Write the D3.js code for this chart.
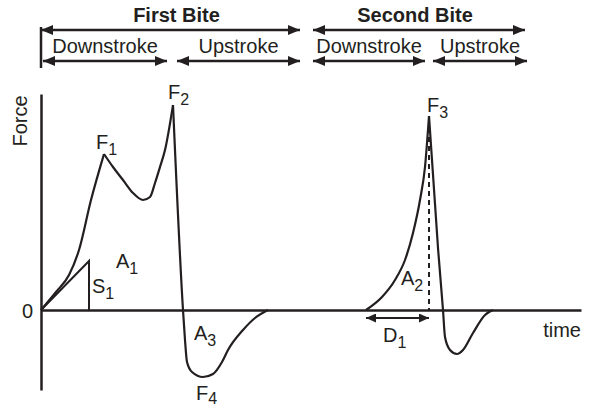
<!DOCTYPE html>
<html>
<head>
<meta charset="utf-8">
<script src="https://cdn.jsdelivr.net/npm/d3@7"></script>
<style>
  body { margin: 0; background: #fff; }
  text { font-family: "Liberation Sans", Arial, sans-serif; fill: #231f20; }
</style>
</head>
<body>
<svg id="chart" width="589" height="408"></svg>
<script>
// force curve, [time, force] in arbitrary units
const bite1Rise = [[0, 0], [0.75, 0.9], [1.4, 1.75], [1.9, 3.0], [2.5, 5.5], [3.15, 7.8]];
const bite1Valley = [[3.15, 7.8], [3.6, 7.15], [4.1, 6.5], [4.6, 5.85], [5.1, 5.5], [5.45, 5.65], [5.7, 6.35], [5.95, 7.15], [6.2, 8.0], [6.6, 10.25]];
const bite1Fall = [[6.6, 10.25], [7.1, 0], [7.2, -1.5], [7.3, -2.6], [7.55, -3.1], [8.1, -3.35], [8.6, -3.2], [9.05, -2.6], [9.35, -2.0], [10.1, -1.0], [10.7, -0.4], [11.35, 0]];
const bite2Rise = [[16.25, 0], [17.05, 0.65], [17.7, 1.5], [18.2, 2.5], [18.6, 3.85], [18.95, 5.5], [19.2, 7.15], [19.4, 9.7]];
const bite2Fall = [[19.4, 9.7], [19.85, 3.1], [20.1, 0], [20.2, -1.35], [20.45, -2.0], [20.8, -2.2], [21.1, -2.0], [21.6, -1.15], [22.2, -0.25], [22.6, 0]];

const slopePoint = [2.4, 2.45];      // S1
const durationSpan = [16.25, 19.4];  // D1

const biteNames = ["First Bite", "Second Bite"];
const biteSpans = [[0, 12.95], [13.6, 24.2]];
const strokeNames = ["Downstroke", "Upstroke", "Downstroke", "Upstroke"];
const strokeSpans = [[0.1, 6.3], [6.8, 12.95], [13.6, 19.2], [19.6, 24.3]];

const svg = d3.select("#chart");
const x = d3.scaleLinear().domain([0, 27]).range([41, 581]);
const y = d3.scaleLinear().domain([-4, 10.8]).range([390, 94]);
const ink = "#231f20";

const defs = svg.append("defs");
function arrowMarker(id, w, h) {
  defs.append("marker")
    .attr("id", id)
    .attr("markerUnits", "userSpaceOnUse")
    .attr("markerWidth", w).attr("markerHeight", h)
    .attr("refX", w).attr("refY", h / 2)
    .attr("orient", "auto-start-reverse")
    .append("path")
    .attr("d", `M0,0L${w},${h / 2}L0,${h}Z`)
    .attr("fill", ink);
}
arrowMarker("arr", 12, 10);
arrowMarker("arrSmall", 10, 9);

// axes
const xAxis = svg.append("g")
  .attr("transform", `translate(0,${y(0)})`)
  .call(d3.axisBottom(x).tickValues([]).tickSizeOuter(0));
const yAxis = svg.append("g")
  .attr("transform", `translate(${x(0)},0)`)
  .call(d3.axisLeft(y).tickValues([0]).tickSize(0).tickPadding(8).tickSizeOuter(0));
svg.selectAll(".domain").attr("stroke", ink).attr("stroke-width", 2.5);
yAxis.selectAll("text").attr("font-size", 20).attr("font-family", "Liberation Sans, Arial, sans-serif").attr("fill", ink).attr("dy", "0.35em");

svg.append("text").attr("transform", `translate(27,${y(9.45)}) rotate(-90)`)
  .attr("text-anchor", "middle").attr("font-size", 20).text("Force");
svg.append("text").attr("x", x(27)).attr("y", y(-1.35)).attr("text-anchor", "end")
  .attr("font-size", 20).text("time");

// curve
const line = d3.line().x(d => x(d[0])).y(d => y(d[1])).curve(d3.curveMonotoneX);
[bite1Rise, bite1Valley, bite1Fall, bite2Rise, bite2Fall].forEach(seg => {
  svg.append("path").attr("d", line(seg))
    .attr("fill", "none").attr("stroke", ink).attr("stroke-width", 2.2)
    .attr("stroke-linejoin", "miter");
});

// S1 triangle
svg.append("path")
  .attr("d", d3.line()([[x(0), y(0)], [x(slopePoint[0]), y(slopePoint[1])], [x(slopePoint[0]), y(0)]]))
  .attr("fill", "none").attr("stroke", ink).attr("stroke-width", 2);

// dashed drop from F3
const f3 = bite2Rise[bite2Rise.length - 1];
svg.append("line")
  .attr("x1", x(f3[0])).attr("x2", x(f3[0]))
  .attr("y1", y(f3[1]) + 3).attr("y2", y(0))
  .attr("stroke", ink).attr("stroke-width", 2).attr("stroke-dasharray", "5,4");

// D1 arrow
svg.append("line")
  .attr("x1", x(durationSpan[0])).attr("x2", x(durationSpan[1]))
  .attr("y1", y(-0.4)).attr("y2", y(-0.4))
  .attr("stroke", ink).attr("stroke-width", 2.2)
  .attr("marker-start", "url(#arrSmall)").attr("marker-end", "url(#arrSmall)");

// labels with subscripts
function label(px, py, main, sub, shift = 6) {
  const t = svg.append("text").attr("x", px).attr("y", py).attr("font-size", 20);
  t.append("tspan").text(main);
  t.append("tspan").attr("font-size", 16).attr("dy", shift).text(sub);
}
const f1 = bite1Rise[bite1Rise.length - 1];
const f2 = bite1Valley[bite1Valley.length - 1];
const f4 = bite1Fall[5];
label(x(f1[0]) - 8, y(f1[1]) - 5, "F", "1");
label(x(f2[0]) - 5, y(f2[1]) - 6, "F", "2");
label(x(f3[0]) - 2, y(f3[1]) - 4, "F", "3");
label(x(f4[0]) - 7, y(f4[1]) + 23, "F", "4", 4);
label(x(3.75), y(2.1), "A", "1");
label(x(slopePoint[0]) + 3, y(0.85), "S", "1");
label(x(7.65), y(-1.5), "A", "3");
label(x(18.0), y(1.25), "A", "2");
label(x(17.1), y(-1.6), "D", "1");

// top phase annotations
svg.append("line").attr("x1", x(0)).attr("x2", x(0)).attr("y1", 27).attr("y2", 68)
  .attr("stroke", ink).attr("stroke-width", 2.5);

biteSpans.forEach((s, i) => {
  svg.append("line").attr("x1", x(s[0])).attr("x2", x(s[1])).attr("y1", 30).attr("y2", 30)
    .attr("stroke", ink).attr("stroke-width", 2.5)
    .attr("marker-start", "url(#arr)").attr("marker-end", "url(#arr)");
  svg.append("text").attr("x", (x(s[0]) + x(s[1])) / 2 + (i === 0 ? 6 : -4)).attr("y", 22)
    .attr("text-anchor", "middle").attr("font-size", 20).attr("font-weight", "bold")
    .text(biteNames[i]);
});

strokeSpans.forEach((s, i) => {
  svg.append("line").attr("x1", x(s[0])).attr("x2", x(s[1])).attr("y1", 61).attr("y2", 61)
    .attr("stroke", ink).attr("stroke-width", 2.5)
    .attr("marker-start", "url(#arr)").attr("marker-end", "url(#arr)");
  svg.append("text").attr("x", (x(s[0]) + x(s[1])) / 2).attr("y", 53)
    .attr("text-anchor", "middle").attr("font-size", 20)
    .text(strokeNames[i]);
});
</script>
</body>
</html>
